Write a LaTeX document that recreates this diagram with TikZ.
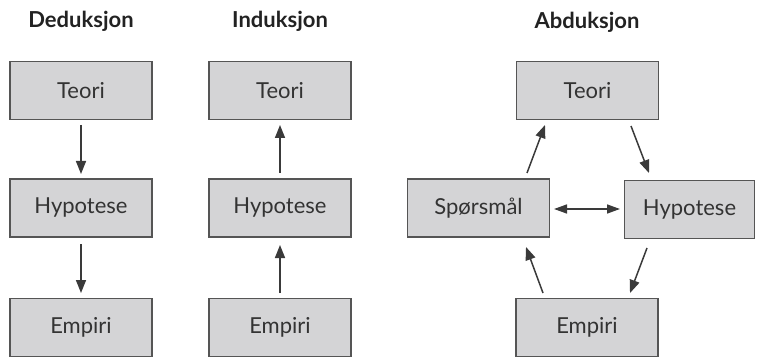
\documentclass[tikz,border=0pt]{standalone}
\usepackage{fontspec}
\setmainfont{Lato}
\usetikzlibrary{arrows.meta}
\definecolor{boxfill}{HTML}{D4D4D6}
\definecolor{boxline}{HTML}{555555}
\definecolor{txt}{HTML}{333333}
\definecolor{ttl}{HTML}{222222}
\definecolor{arrc}{HTML}{3A3A3A}
\tikzset{
  box/.style={draw=boxline, fill=boxfill, line width=1.4pt, minimum width=142pt, minimum height=58pt, inner sep=0pt, text=txt, font=\fontsize{22}{25}\selectfont},
  title/.style={text=ttl, font=\bfseries\fontsize{22}{25}\selectfont, inner sep=0pt},
  tip/.style={},
  arr/.style={draw=arrc, line width=1.5pt, -{Triangle[length=13pt,width=10pt]}},
  darr/.style={draw=arrc, line width=1.5pt, {Triangle[length=13pt,width=9pt]}-{Triangle[length=13pt,width=9pt]}}
}
\begin{document}
\begin{tikzpicture}[x=1pt,y=-1pt]
\useasboundingbox (0,0) rectangle (757,358);
% titles
\node[title] (t1) at (81,21) {Deduksjon};
\node[title] (t2) at (280,21) {Induksjon};
\node[title] (t3) at (587,22) {Abduksjon};
% Deduksjon
\node[box] (dT) at (81,90.5) {Teori};
\node[box] (dH) at (81,208) {Hypotese};
\node[box] (dE) at (81,327.5) {Empiri};
\coordinate (d1a) at (81,125); \coordinate (d1b) at (81,174);
\coordinate (d2a) at (81,244); \coordinate (d2b) at (81,293);
\draw[arr] (d1a) -- (d1b);
\draw[arr] (d2a) -- (d2b);
% Induksjon
\node[box] (iT) at (280,90.5) {Teori};
\node[box] (iH) at (280,208) {Hypotese};
\node[box] (iE) at (280,327.5) {Empiri};
\coordinate (i1a) at (280,173); \coordinate (i1b) at (280,125);
\coordinate (i2a) at (280,293); \coordinate (i2b) at (280,245);
\draw[arr] (i1a) -- (i1b);
\draw[arr] (i2a) -- (i2b);
% Abduksjon
\node[box] (aT) at (587.5,90.5) {Teori};
\node[box] (aS) at (478.5,208) {Spørsmål};
\node[box, minimum width=130pt] (aH) at (689.5,209.5) {Hypotese};
\node[box] (aE) at (587,327.5) {Empiri};
\coordinate (a1a) at (527,173); \coordinate (a1b) at (545,125);
\coordinate (a2a) at (631,126); \coordinate (a2b) at (649,173);
\coordinate (a3a) at (554,209); \coordinate (a3b) at (620,209);
\coordinate (a4a) at (647,248); \coordinate (a4b) at (630,293);
\coordinate (a5a) at (543,293); \coordinate (a5b) at (526,247);
\draw[arr] (a1a) -- (a1b);
\draw[arr] (a2a) -- (a2b);
\draw[darr] (a3a) -- (a3b);
\draw[arr] (a4a) -- (a4b);
\draw[arr] (a5a) -- (a5b);
\end{tikzpicture}
\end{document}
